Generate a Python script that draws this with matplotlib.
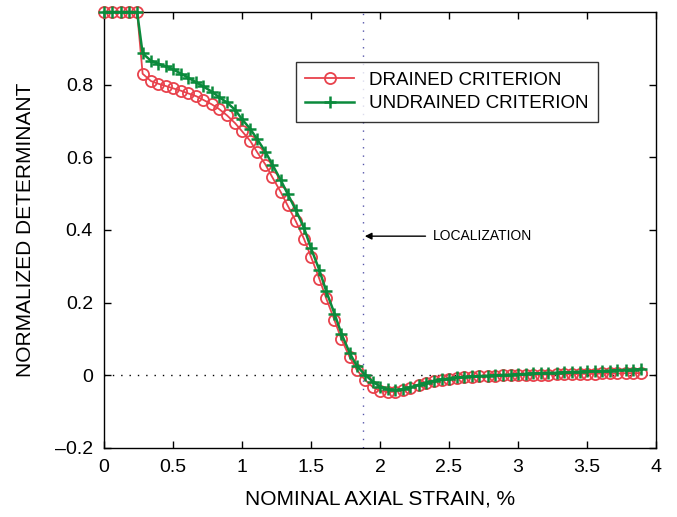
import matplotlib
matplotlib.use("Agg")
import matplotlib.pyplot as plt

plt.rcParams['font.family'] = ['Liberation Sans Narrow', 'Liberation Sans', 'DejaVu Sans']

# strain (%) at each computed step
strain = [0.00, 0.06, 0.12, 0.18, 0.24,
          0.28, 0.34, 0.39, 0.45, 0.50, 0.56, 0.61, 0.67, 0.72, 0.78,
          0.83, 0.89, 0.95, 1.00, 1.06, 1.11, 1.17, 1.22, 1.28, 1.33,
          1.39, 1.45, 1.50, 1.56, 1.61, 1.67, 1.72, 1.78, 1.83, 1.89,
          1.95, 2.00, 2.06, 2.11, 2.17, 2.22, 2.28, 2.33, 2.39, 2.45,
          2.50, 2.56, 2.61, 2.67, 2.72, 2.78, 2.83, 2.89, 2.95, 3.00,
          3.06, 3.11, 3.17, 3.22, 3.28, 3.33, 3.39, 3.45, 3.50, 3.56,
          3.61, 3.67, 3.72, 3.78, 3.83, 3.89]

drained = [1.0, 1.0, 1.0, 1.0, 1.0,
           0.830, 0.810, 0.803, 0.796, 0.790, 0.783, 0.776, 0.768, 0.758, 0.746,
           0.734, 0.716, 0.694, 0.672, 0.645, 0.614, 0.580, 0.545, 0.505, 0.468,
           0.424, 0.375, 0.326, 0.266, 0.212, 0.152, 0.100, 0.050, 0.016, -0.012,
           -0.033, -0.043, -0.046, -0.045, -0.040, -0.034, -0.027, -0.021, -0.016, -0.012,
           -0.009, -0.007, -0.005, -0.004, -0.003, -0.002, -0.001, 0.000, 0.000, 0.001,
           0.001, 0.002, 0.002, 0.002, 0.003, 0.003, 0.003, 0.004, 0.004, 0.004,
           0.005, 0.005, 0.005, 0.006, 0.006, 0.006]

undrained = [1.0, 1.0, 1.0, 1.0, 1.0,
             0.886, 0.866, 0.858, 0.850, 0.842, 0.830, 0.819, 0.806, 0.795, 0.781,
             0.767, 0.751, 0.731, 0.705, 0.678, 0.650, 0.615, 0.580, 0.538, 0.500,
             0.455, 0.405, 0.350, 0.290, 0.232, 0.170, 0.115, 0.062, 0.027, 0.002,
             -0.018, -0.031, -0.039, -0.041, -0.038, -0.033, -0.026, -0.020, -0.015, -0.011,
             -0.009, -0.006, -0.004, -0.003, -0.002, -0.001, 0.000, 0.001, 0.002, 0.003,
             0.004, 0.005, 0.006, 0.007, 0.007, 0.008, 0.009, 0.010, 0.011, 0.011,
             0.012, 0.013, 0.014, 0.015, 0.016, 0.017]

localization_strain = 1.88

fig = plt.figure(figsize=(6.77, 5.17), dpi=100)
ax = fig.add_axes([0.1536, 0.1335, 0.8154, 0.8433])

red = '#e8424c'
green = '#0b8a3c'

# reference lines
ax.axhline(0, color='black', linestyle=(0, (1, 5)), linewidth=1.0, zorder=1)
ax.axvline(localization_strain, color='#5555aa', linestyle=(0, (1, 5)), linewidth=1.0, zorder=1)

ax.plot(strain, drained, color=red, linewidth=1.3, marker='o', markersize=8,
        markerfacecolor='none', markeredgecolor=red, markeredgewidth=1.3,
        label='DRAINED CRITERION', zorder=3, clip_on=False)
ax.plot(strain, undrained, color=green, linewidth=1.8, marker='+', markersize=9,
        markeredgewidth=1.8, label='UNDRAINED CRITERION', zorder=4, clip_on=False)

ax.annotate('LOCALIZATION', xy=(localization_strain + 0.01, 0.383),
            xytext=(2.38, 0.383), fontsize=10, va='center', ha='left',
            arrowprops=dict(arrowstyle='-|>', color='black', lw=1.0,
                            mutation_scale=10, shrinkA=3, shrinkB=0))

ax.set_xlim(0, 4)
ax.set_ylim(-0.2, 1.0)
ax.set_xticks([0, 0.5, 1, 1.5, 2, 2.5, 3, 3.5, 4])
ax.set_xticklabels(['0', '0.5', '1', '1.5', '2', '2.5', '3', '3.5', '4'])
ax.set_yticks([-0.2, 0, 0.2, 0.4, 0.6, 0.8])
ax.set_yticklabels(['\u20130.2', '0', '0.2', '0.4', '0.6', '0.8'])
ax.tick_params(direction='in', top=True, right=True, length=5, width=1,
               labelsize=14, pad=8)
for s in ax.spines.values():
    s.set_linewidth(1.0)

ax.set_xlabel('NOMINAL AXIAL STRAIN, %', fontsize=15, labelpad=10)
ax.set_ylabel('NORMALIZED DETERMINANT', fontsize=15, labelpad=14)

leg = ax.legend(loc='upper left', bbox_to_anchor=(0.348, 0.885), fontsize=13.5,
                frameon=True, fancybox=False, edgecolor='black',
                handlelength=2.6, borderpad=0.5, labelspacing=0.35,
                handletextpad=0.8, borderaxespad=0)
leg.get_frame().set_linewidth(1.0)

fig.savefig('out.png', dpi=100)
